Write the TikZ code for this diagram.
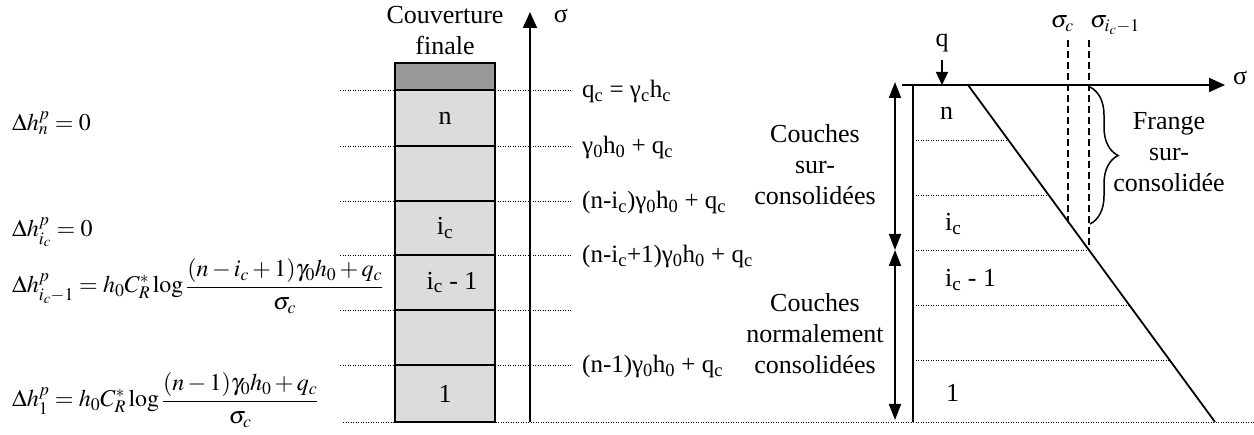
\documentclass[tikz,border=0pt]{standalone}
\usepackage{amsmath}
\usepackage{mathptmx}
\usepackage[no-math]{fontspec}
\setmainfont{Liberation Serif}
\usetikzlibrary{arrows.meta,decorations.pathreplacing,calc}
\definecolor{darkfill}{RGB}{153,153,153}
\definecolor{lightfill}{RGB}{220,220,220}
\begin{document}
\begin{tikzpicture}[x=1pt,y=-1pt,
  txt/.style={inner sep=0pt, font=\fontsize{26}{31}\selectfont, align=center},
  lbl/.style={inner sep=0pt, font=\fontsize{25}{30}\selectfont, anchor=base west},
  mth/.style={inner sep=0pt, font=\fontsize{24}{29}\selectfont, anchor=base west},
  dots/.style={line width=0.9pt, dash pattern=on 1.1pt off 1.4pt},
  thk/.style={line width=1.8pt},
  layer/.style={draw, line width=1.8pt, fill=lightfill, minimum width=100pt, inner sep=0pt, font=\fontsize{26}{31}\selectfont},
  axisarrow/.style={line width=1.8pt, -{Triangle[length=16pt,width=14pt]}},
  dblarrow/.style={line width=1.8pt, {Triangle[length=16pt,width=12pt]}-{Triangle[length=16pt,width=12pt]}},
  dsh/.style={line width=1.6pt, dash pattern=on 7pt off 4pt}
]
\useasboundingbox (0,0) rectangle (1254,435);

% ---------- guide lines (left part) ----------
\foreach \yy in {90,146,201,255,310,365}{
  \draw[dots] (340,\yy) -- (572,\yy);
}
\draw[dots] (343,422) -- (1254,422);

% ---------- column of layers ----------
\node[layer, fill=darkfill, minimum height=27pt] (cov) at (445,76.5) {};
\node[layer, minimum height=56pt] (Ln) at (445,118) {n};
\node[layer, minimum height=55pt] (Lb1) at (445,173.5) {};
\node[layer, minimum height=54pt] (Lic) at (445,228) {i\textsubscript{c}};
\node[layer, minimum height=55pt] (Lic1) at (445,282.5) {\hspace{14pt}i\textsubscript{c} - 1};
\node[layer, minimum height=55pt] (Lb2) at (445,337.5) {};
\node[layer, minimum height=57pt] (L1) at (445,393.5) {1};

\node[txt] (couv) at (445,31) {Couverture\\finale};

% vertical axis
\coordinate (ax0) at (530,422);
\coordinate (ax1) at (530,12);
\draw[axisarrow] (ax0) -- (ax1);
\node[txt] (sigL) at (561,16) {σ};

% stress labels
\node[lbl] (s1) at (582,98) {q\textsubscript{c} = γ\textsubscript{c}h\textsubscript{c}};
\node[lbl] (s2) at (582,154) {γ\textsubscript{0}h\textsubscript{0} + q\textsubscript{c}};
\node[lbl] (s3) at (582,209) {(n-i\textsubscript{c})γ\textsubscript{0}h\textsubscript{0} + q\textsubscript{c}};
\node[lbl] (s4) at (582,263) {(n-i\textsubscript{c}+1)γ\textsubscript{0}h\textsubscript{0} + q\textsubscript{c}};
\node[lbl] (s5) at (582,373) {(n-1)γ\textsubscript{0}h\textsubscript{0} + q\textsubscript{c}};

% left formulas
\node[mth] (f1) at (12,131) {$\Delta h_n^p = 0$};
\node[mth] (f2) at (12,237) {$\Delta h_{i_c}^p = 0$};
\node[mth] (f3) at (12,293) {$\displaystyle \Delta h_{i_c-1}^p = h_0 C_R^* \log \frac{\displaystyle (n-i_c+1)\gamma_0 h_0 + q_c}{\displaystyle \sigma_c}$};
\node[mth] (f4) at (12,407) {$\displaystyle \Delta h_1^p = h_0 C_R^* \log \frac{\displaystyle (n-1)\gamma_0 h_0 + q_c}{\displaystyle \sigma_c}$};

% ---------- right diagram ----------
\coordinate (g0) at (913,85);
\coordinate (g1) at (913,422);
\coordinate (h0) at (902,85);
\coordinate (h1) at (1225,85);
\coordinate (d0) at (968,85);
\coordinate (d1) at (1215,422);

\foreach \yy/\nm in {140/r1,195/r2,250/r3,305/r4,360/r5}{
  \pgfmathsetmacro{\xx}{968+(\yy-85)/337*247}
  \coordinate (\nm a) at (913,\yy);
  \coordinate (\nm b) at (\xx,\yy);
  \draw[dots] (\nm a) -- (\nm b);
}

\draw[thk] (g0) -- (g1);
\draw[axisarrow] (h0) -- (h1);
\draw[thk] (d0) -- (d1);
\node[txt] (sigR) at (1240,78) {σ};

% q arrow
\node[txt] (q) at (942,43) {q};
\coordinate (qs) at (942,60);
\coordinate (qe) at (942,85);
\draw[line width=1.6pt, -{Triangle[length=13pt,width=12pt]}] (qs) -- (qe);

% double arrows
\coordinate (a0) at (895,82);
\coordinate (a1) at (895,250);
\coordinate (a2) at (895,420);
\draw[dblarrow] (a0) -- (a1);
\draw[dblarrow] (a1) -- (a2);

% dashed verticals
\coordinate (c0) at (1068,40);
\coordinate (c1) at (1068,221);
\coordinate (e0) at (1089,40);
\coordinate (e1) at (1089,250);
\draw[dsh] (c0) -- (c1);
\draw[dsh] (e0) -- (e1);
\node[mth, anchor=base east] (sc) at (1074,28) {$\sigma_c$};
\node[mth] (sic) at (1090,28) {$\sigma_{i_c-1}$};

% brace
\coordinate (b0) at (1090,87);
\coordinate (b1) at (1090,224);
\draw[line width=1.5pt, decorate, decoration={brace, amplitude=28pt}] (b0) -- (b1);
\node[txt] (frange) at (1169,152) {Frange\\sur-\\consolidée};

% side texts
\node[txt] (cs) at (815,165) {Couches\\sur-\\consolidées};
\node[txt] (cn) at (815,334) {Couches\\normalement\\consolidées};

% layer labels (right)
\node[txt, anchor=west] (rn) at (940,113) {n};
\node[txt, anchor=west] (ric) at (945,224) {i\textsubscript{c}};
\node[txt, anchor=west] (ric1) at (945,280) {i\textsubscript{c} - 1};
\node[txt, anchor=west] (r1) at (946,393) {1};
\end{tikzpicture}
\end{document}
